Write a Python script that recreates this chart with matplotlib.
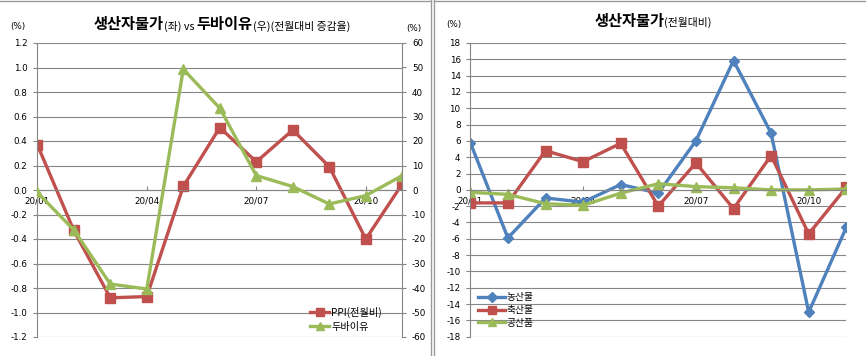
import numpy as np
import matplotlib.pyplot as plt
from matplotlib.offsetbox import TextArea, HPacker, AnchoredOffsetbox
from matplotlib.lines import Line2D

plt.rcParams['axes.unicode_minus'] = False
KR = ['Noto Sans CJK KR', 'DejaVu Sans']

# 데이터 (전월대비, %)
months = ['20/01', '20/02', '20/03', '20/04', '20/05', '20/06',
          '20/07', '20/08', '20/09', '20/10', '20/11']
ppi = [0.37, -0.33, -0.88, -0.87, 0.03, 0.51, 0.23, 0.49, 0.19, -0.40, 0.05]
dubai = [-1.0, -16.3, -38.4, -40.4, 49.3, 33.4, 5.9, 1.4, -5.7, -2.3, 5.9]
agri = [5.8, -5.9, -1.0, -1.5, 0.65, -0.4, 6.0, 15.85, 6.95, -15.0, -4.6]
livestock = [-1.6, -1.6, 4.8, 3.45, 5.7, -2.0, 3.3, -2.3, 4.2, -5.4, 0.3]
industrial = [-0.3, -0.55, -1.7, -1.9, -0.4, 0.75, 0.4, 0.25, 0.0, 0.0, 0.1]
ppi_ticks = [-1.2, -1.0, -0.8, -0.6, -0.4, -0.2, 0.0, 0.2, 0.4, 0.6, 0.8, 1.0, 1.2]

RED = '#C0504D'
GREEN = '#9BBB59'
BLUE = '#4F81BD'
GRID = '#868686'
TICK_FS = 6.3

W, H = 866, 356
fig = plt.figure(figsize=(W / 100, H / 100), dpi=100)


def px_axes(x0, x1, y0, y1):
    return fig.add_axes([x0 / W, 1 - y1 / H, (x1 - x0) / W, (y1 - y0) / H])


def style_axis(ax):
    for s in ['top', 'right']:
        ax.spines[s].set_visible(False)
    ax.spines['left'].set_color(GRID)
    ax.spines['bottom'].set_color(GRID)
    ax.spines['bottom'].set_position(('data', 0))
    ax.grid(axis='y', color=GRID, lw=0.8)
    ax.set_axisbelow(True)
    ax.set_xticks([0, 3, 6, 9])
    ax.set_xticklabels(months[::3])
    ax.tick_params(axis='x', direction='in', length=3, pad=5,
                   labelsize=TICK_FS, color=GRID)
    ax.tick_params(axis='y', direction='out', length=3, pad=4,
                   labelsize=TICK_FS, color=GRID)


def title(parts, cx, cy):
    kids = [TextArea(t, textprops=dict(fontsize=s, fontweight=w, family=KR))
            for t, s, w in parts]
    box = HPacker(children=kids, align='baseline', pad=0, sep=0)
    ab = AnchoredOffsetbox(loc='center', child=box, frameon=False, pad=0,
                           borderpad=0, bbox_to_anchor=(cx / W, 1 - cy / H),
                           bbox_transform=fig.transFigure)
    fig.add_artist(ab)


x = np.arange(len(months))

# ---- 왼쪽: 생산자물가 vs 두바이유
ax = px_axes(37.3, 402.3, 43, 337)
style_axis(ax)
l1, = ax.plot(x, ppi, color=RED, lw=2.4, marker='s', ms=6.5)
ax.set_xlim(0, 10)
ax.set_ylim(-1.2, 1.2)
ax.set_yticks(ppi_ticks)
ax.set_yticklabels([f'{v:.1f}' for v in ppi_ticks])

ax2 = ax.twinx()
l2, = ax2.plot(x, dubai, color=GREEN, lw=2.4, marker='^', ms=7)
ax2.set_ylim(-60, 60)
ax2.set_yticks(range(-60, 61, 10))
for s in ['top', 'left', 'bottom']:
    ax2.spines[s].set_visible(False)
ax2.spines['right'].set_color(GRID)
ax2.tick_params(axis='y', direction='out', length=3, pad=4,
                labelsize=TICK_FS, color=GRID)

ax2.legend([l1, l2], ['PPI(전월비)', '두바이유'], loc='upper left',
           bbox_to_anchor=(310 / W, 1 - 307 / H),
           bbox_transform=fig.transFigure, frameon=False,
           prop=dict(family=KR, size=7.3), handlelength=1.9,
           handletextpad=0.2, labelspacing=0.35, borderpad=0,
           borderaxespad=0, markerscale=0.9)

title([('생산자물가', 11, 'bold'), ('(좌) vs ', 7.8, 'normal'),
       ('두바이유', 11, 'bold'), ('(우)(전월대비 증감율)', 7.8, 'normal')],
      222, 24.5)
fig.text(18 / W, 1 - 26 / H, '(%)', fontsize=TICK_FS, ha='center', va='center')
fig.text(414 / W, 1 - 29 / H, '(%)', fontsize=TICK_FS, ha='center', va='center')

# ---- 오른쪽: 생산자물가 품목별
ax3 = px_axes(470.3, 846.3, 43, 336.7)
style_axis(ax3)
ax3.plot(x, agri, color=BLUE, lw=2.4, marker='D', ms=5.5, label='농산물')
ax3.plot(x, livestock, color=RED, lw=2.4, marker='s', ms=6.5, label='축산물')
ax3.plot(x, industrial, color=GREEN, lw=2.4, marker='^', ms=7, label='공산품')
ax3.set_xlim(0, 10)
ax3.set_ylim(-18, 18)
ax3.set_yticks(range(-18, 19, 2))
ax3.legend(loc='upper left', bbox_to_anchor=(478 / W, 1 - 292 / H),
           bbox_transform=fig.transFigure, frameon=False,
           prop=dict(family=KR, size=7.0), handlelength=2.8,
           handletextpad=0.1, labelspacing=0.3, borderpad=0,
           borderaxespad=0, markerscale=0.9)

title([('생산자물가', 11, 'bold'), ('(전월대비)', 7.8, 'normal')], 653, 21)
fig.text(454 / W, 1 - 25 / H, '(%)', fontsize=TICK_FS, ha='center', va='center')

# 패널 테두리
BORDER = '#9a9a9a'
for xs, ys in [([0, 431 / W], [1 - 0.5 / H] * 2),
               ([431 / W] * 2, [0, 1]),
               ([434 / W, 1], [1 - 0.5 / H] * 2),
               ([434 / W] * 2, [0, 1])]:
    fig.add_artist(Line2D(xs, ys, color=BORDER, lw=1, transform=fig.transFigure))

fig.savefig('out.png', dpi=100)
